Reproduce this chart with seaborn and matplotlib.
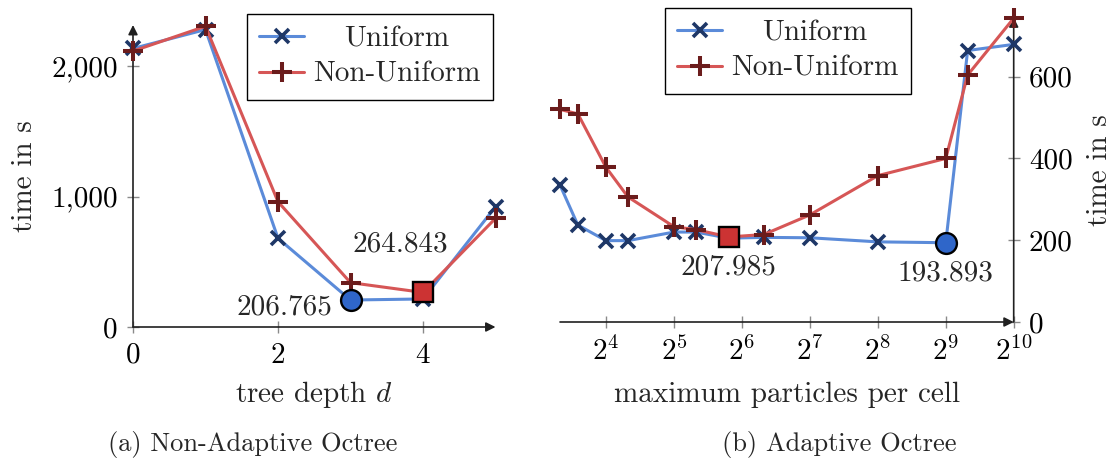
import numpy as np
import pandas as pd
import matplotlib
matplotlib.use("Agg")
import matplotlib.pyplot as plt
import seaborn as sns

# Runtime (s) against octree depth for the non-adaptive octree
depth = [0, 1, 2, 3, 4, 5]
uniform_depth = [2135, 2280, 680, 206.765, 215, 922]
nonuniform_depth = [2115, 2305, 960, 340, 264.843, 833]

# Runtime (s) against maximum particles per cell for the adaptive octree
max_particles = [10, 12, 16, 20, 32, 40, 56, 80, 128, 256, 512, 640, 1024]
uniform_adaptive = [335, 237, 199, 199, 220, 220, 205, 207, 206, 196, 193.893, 664, 679]
nonuniform_adaptive = [520, 509, 378, 306, 233, 226, 207.985, 214, 262, 358, 400, 604, 743]

depth_ticks = [0, 2, 4]
time_ticks_a = [0, 1000, 2000]
time_tick_labels_a = ["0", "1,000", "2,000"]
particle_exponents = [4, 5, 6, 7, 8, 9, 10]
time_ticks_b = [0, 200, 400, 600]

series_names = ["Uniform", "Non-Uniform"]
caption_a = "(a) Non-Adaptive Octree"
caption_b = "(b) Adaptive Octree"

sns.set_theme(style="white")
plt.rcParams["font.family"] = ["cmr10", "DejaVu Serif"]
plt.rcParams["mathtext.fontset"] = "cm"
plt.rcParams["axes.formatter.use_mathtext"] = True
plt.rcParams["axes.unicode_minus"] = False

FS = 21
BLUE_LINE = "#5b8bd9"
BLUE_MARK = "#1e3767"
RED_LINE = "#d65656"
RED_MARK = "#6b1c1c"
BLUE_FILL = "#2f66c9"
RED_FILL = "#cc3333"
TICK_GRAY = "#8a8a8a"

W, H = 1119, 466
fig = plt.figure(figsize=(W / 100, H / 100), dpi=100)
fig.patch.set_facecolor("white")

ax1 = fig.add_axes([133 / W, 139 / H, 362.5 / W, 302 / H])
ax2 = fig.add_axes([560 / W, 144 / H, 453.7 / W, 304.6 / H])
ax2.set_xscale("log", base=2)

df_a = pd.DataFrame({"depth": depth, "Uniform": uniform_depth,
                     "Non-Uniform": nonuniform_depth})
df_b = pd.DataFrame({"particles": max_particles, "Uniform": uniform_adaptive,
                     "Non-Uniform": nonuniform_adaptive})

uni_style = dict(color=BLUE_LINE, marker="x", markersize=10.5, markeredgewidth=2.6,
                 markeredgecolor=BLUE_MARK, linewidth=2.2, clip_on=False)
non_style = dict(color=RED_LINE, marker="+", markersize=14, markeredgewidth=2.9,
                 markeredgecolor=RED_MARK, linewidth=2.2, clip_on=False)


def draw_panel(ax, df, xcol):
    sns.lineplot(data=df, x=xcol, y="Uniform", ax=ax, label=series_names[0],
                 sort=False, estimator=None, **uni_style)
    sns.lineplot(data=df, x=xcol, y="Non-Uniform", ax=ax, label=series_names[1],
                 sort=False, estimator=None, **non_style)
    # highlight the fastest run of each series
    iu = int(np.argmin(df["Uniform"].values))
    inn = int(np.argmin(df["Non-Uniform"].values))
    ax.plot(df[xcol].values[iu], df["Uniform"].values[iu], marker="o", markersize=15,
            markerfacecolor=BLUE_FILL, markeredgecolor="black", markeredgewidth=1.7,
            linestyle="none", zorder=6, clip_on=False)
    ax.plot(df[xcol].values[inn], df["Non-Uniform"].values[inn], marker="s", markersize=15,
            markerfacecolor=RED_FILL, markeredgecolor="black", markeredgewidth=1.7,
            linestyle="none", zorder=6, clip_on=False)
    return (df[xcol].values[iu], df["Uniform"].values[iu]), \
           (df[xcol].values[inn], df["Non-Uniform"].values[inn])


(ua_x, ua_y), (na_x, na_y) = draw_panel(ax1, df_a, "depth")
(ub_x, ub_y), (nb_x, nb_y) = draw_panel(ax2, df_b, "particles")

ax1.annotate(f"{ua_y:.3f}", (ua_x, ua_y), xytext=(-13, -5), textcoords="offset points",
             ha="right", va="center", fontsize=FS)
ax1.annotate(f"{na_y:.3f}", (na_x, na_y), xytext=(-16, 35), textcoords="offset points",
             ha="center", va="center", fontsize=FS)
ax2.annotate(f"{nb_y:.3f}", (nb_x, nb_y), xytext=(0, -22), textcoords="offset points",
             ha="center", va="center", fontsize=FS)
ax2.annotate(f"{ub_y:.3f}", (ub_x, ub_y), xytext=(0, -22), textcoords="offset points",
             ha="center", va="center", fontsize=FS)

# axes limits and ticks
ax1.set_xlim(0, 5)
ax1.set_ylim(0, 2315)
ax1.set_xticks(depth_ticks)
ax1.set_xticklabels([str(t) for t in depth_ticks])
ax1.set_yticks(time_ticks_a)
ax1.set_yticklabels(time_tick_labels_a)

ax2.set_xlim(10, 1024)
ax2.set_ylim(0, 745)
ax2.set_xticks([2 ** e for e in particle_exponents])
ax2.set_xticklabels([rf"$2^{{{e}}}$" for e in particle_exponents])
ax2.xaxis.set_minor_locator(matplotlib.ticker.NullLocator())
ax2.set_yticks(time_ticks_b)
ax2.set_yticklabels([str(t) for t in time_ticks_b])
ax2.yaxis.tick_right()
ax2.yaxis.set_label_position("right")

for ax in (ax1, ax2):
    ax.set_facecolor("none")
    for s in ax.spines.values():
        s.set_visible(False)
    ax.grid(False)
    ax.tick_params(axis="both", which="major", direction="inout", length=8, width=1,
                   color=TICK_GRAY, labelsize=FS, pad=7, labelcolor="black")
    ax.tick_params(axis="x", bottom=True)

ax1.tick_params(axis="y", left=True)
ax2.tick_params(axis="y", right=True, left=False)

ax1.set_xlabel(r"tree depth $d$", fontsize=FS)
ax1.set_ylabel("time in s", fontsize=FS)
ax2.set_xlabel("maximum particles per cell", fontsize=FS)
ax2.set_ylabel("time in s", fontsize=FS, rotation=90)
for ax in (ax1, ax2):
    ax.xaxis.label.set_va("center")
    ax.yaxis.label.set_va("center")
ax1.xaxis.set_label_coords(0.5, -(395 - 327) / 302)
ax1.yaxis.set_label_coords((25 - 133) / 362.5, 0.5)
ax2.xaxis.set_label_coords(0.5, -(395 - 322) / 304.6)
ax2.yaxis.set_label_coords((1100 - 560) / 453.7, 0.5)

# axis lines with arrow heads
arrow = dict(arrowstyle="-|>", color="#202020", lw=1.2, shrinkA=0, shrinkB=0,
             mutation_scale=14)
ax1.annotate("", xy=(1.0, 0), xytext=(0.0, 0), xycoords=("axes fraction", "data"),
             textcoords=("axes fraction", "data"), arrowprops=arrow, zorder=1)
ax1.annotate("", xy=(0, 1.0), xytext=(0, 0.0), xycoords=("data", "axes fraction"),
             textcoords=("data", "axes fraction"), arrowprops=arrow, zorder=1)
ax2.annotate("", xy=(1.0, 0), xytext=(0.0, 0), xycoords=("axes fraction", "data"),
             textcoords=("axes fraction", "data"), arrowprops=arrow, zorder=1)
ax2.annotate("", xy=(1024, 1.0), xytext=(1024, 0.0), xycoords=("data", "axes fraction"),
             textcoords=("data", "axes fraction"), arrowprops=arrow, zorder=1)

# legends
legs = []
for ax, (lx, ly) in ((ax1, (247, 14)), (ax2, (665, 8))):
    leg = ax.legend(loc="upper left", bbox_to_anchor=(lx / W, 1 - ly / H),
                    bbox_transform=fig.transFigure, frameon=True, fancybox=False,
                    edgecolor="black", framealpha=1, fontsize=FS, borderpad=0.42,
                    labelspacing=0.3, handlelength=1.55, handletextpad=0.3,
                    borderaxespad=0, numpoints=1)
    leg.get_frame().set_linewidth(1.0)
    leg.set_zorder(10)
    legs.append(leg)

fig.canvas.draw()
renderer = fig.canvas.get_renderer()
for leg in legs:
    texts = leg.get_texts()
    widths = [t.get_window_extent(renderer).width for t in texts]
    wmax = max(widths)
    for t, w in zip(texts, widths):
        t.set_position(((wmax - w) / 2, 0))

fig.text(253 / W, 1 - 445 / H, caption_a, ha="center", va="center", fontsize=19)
fig.text(839 / W, 1 - 445 / H, caption_b, ha="center", va="center", fontsize=19)

fig.savefig("out.png", dpi=100, facecolor="white")
